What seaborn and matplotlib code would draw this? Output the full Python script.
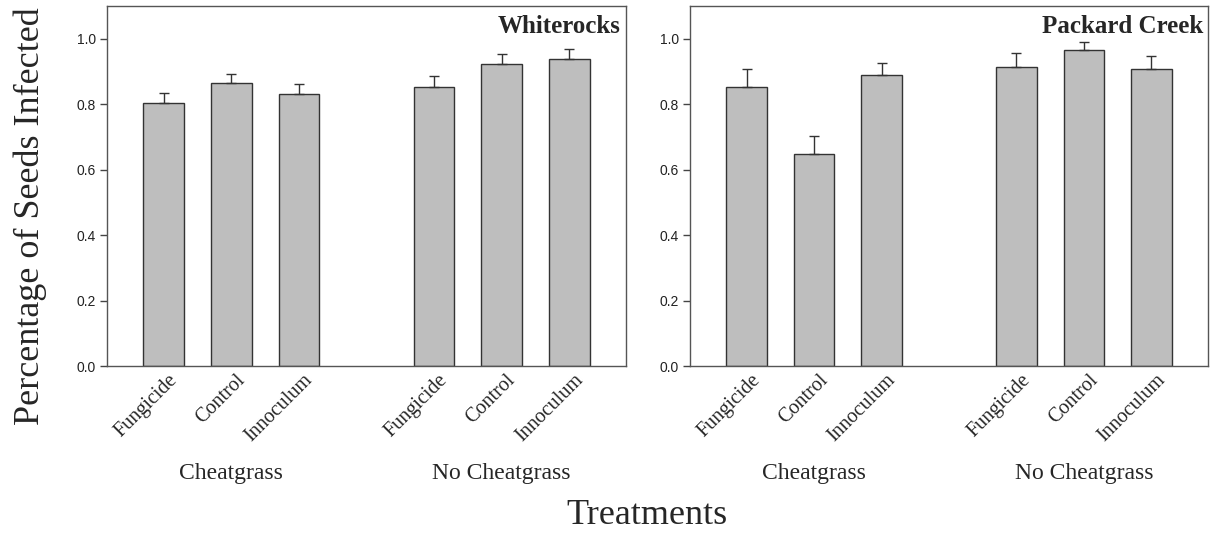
import numpy as np
import pandas as pd
import seaborn as sns
import matplotlib.pyplot as plt
import matplotlib.transforms as mtransforms

# data
groups = ["Cheatgrass", "No Cheatgrass"]
treatments = ["Fungicide", "Control", "Innoculum"]

white_mean = [0.805, 0.864, 0.832, 0.853, 0.924, 0.937]
white_se = [0.028, 0.029, 0.031, 0.033, 0.030, 0.031]
packard_mean = [0.853, 0.649, 0.889, 0.915, 0.965, 0.906]
packard_se = [0.053, 0.055, 0.036, 0.041, 0.025, 0.040]

sns.set_style("ticks")
plt.rcParams['font.family'] = ['Liberation Sans', 'DejaVu Sans']
serif = ['Liberation Serif', 'DejaVu Serif']

fig = plt.figure(figsize=(12.14, 5.34), dpi=100)
W, H = 1214, 534
ax1 = fig.add_axes([107 / W, 1 - 366 / H, 519 / W, 360 / H])
ax2 = fig.add_axes([690 / W, 1 - 366 / H, 518 / W, 360 / H])

# offset for the rotated treatment labels under each bar
shift = mtransforms.ScaledTranslation(11 / 100, -11 / 100, fig.dpi_scale_trans)


def panel(ax, means, ses, title):
    df = pd.DataFrame({
        'group': np.repeat(groups, 3),
        'treatment': treatments * 2,
        'value': means,
        'se': ses,
    })
    sns.barplot(data=df, x='group', y='value', hue='treatment',
                order=groups, hue_order=treatments,
                palette=['#bebebe'] * 3, width=0.75, gap=0.4,
                edgecolor='#333333', linewidth=1, errorbar=None,
                legend=False, ax=ax)
    bar_conts = list(ax.containers)
    for ti, cont in enumerate(bar_conts):
        for gi, bar in enumerate(cont):
            cx = bar.get_x() + bar.get_width() / 2
            row = df[(df.group == groups[gi]) & (df.treatment == treatments[ti])].iloc[0]
            ax.errorbar(cx, row.value, yerr=[[0], [row.se]], fmt='none',
                        ecolor='#333333', elinewidth=1, capsize=3.5, capthick=1,
                        zorder=1)
            ax.text(cx, 0, treatments[ti],
                    transform=ax.get_xaxis_transform() + shift,
                    rotation=45, ha='right', va='center',
                    rotation_mode='anchor', family=serif, fontsize=14.5)
    ax.set_xticks([])
    ax.tick_params(axis='y', length=5, width=1, color='#444444',
                   labelsize=10, labelcolor='#222222', pad=3)
    ax.set_xlim(-0.46, 1.46)
    ax.set_ylim(0, 1.1)
    ax.set_yticks([0, 0.2, 0.4, 0.6, 0.8, 1.0])
    ax.set_yticklabels(['0.0', '0.2', '0.4', '0.6', '0.8', '1.0'])
    for s in ax.spines.values():
        s.set_visible(True)
        s.set_color('#555555')
        s.set_linewidth(1)
    ax.set_xlabel('')
    ax.set_ylabel('')
    ax.text(0.99, 0.975, title, transform=ax.transAxes, ha='right', va='top',
            family=serif, fontweight='bold', fontsize=18)
    for gi, g in enumerate(groups):
        ax.text(gi, -0.3, g, transform=ax.get_xaxis_transform(), ha='center',
                va='center', family=serif, fontsize=17)


panel(ax1, white_mean, white_se, 'Whiterocks')
panel(ax2, packard_mean, packard_se, 'Packard Creek')

fig.text(30 / W, 1 - 216 / H, 'Percentage of Seeds Infected', rotation=90,
         ha='center', va='center', family=serif, fontsize=26)
fig.text(647 / W, 1 - 515 / H, 'Treatments', ha='center', va='center',
         family=serif, fontsize=26)

fig.savefig('out.png', dpi=100)
